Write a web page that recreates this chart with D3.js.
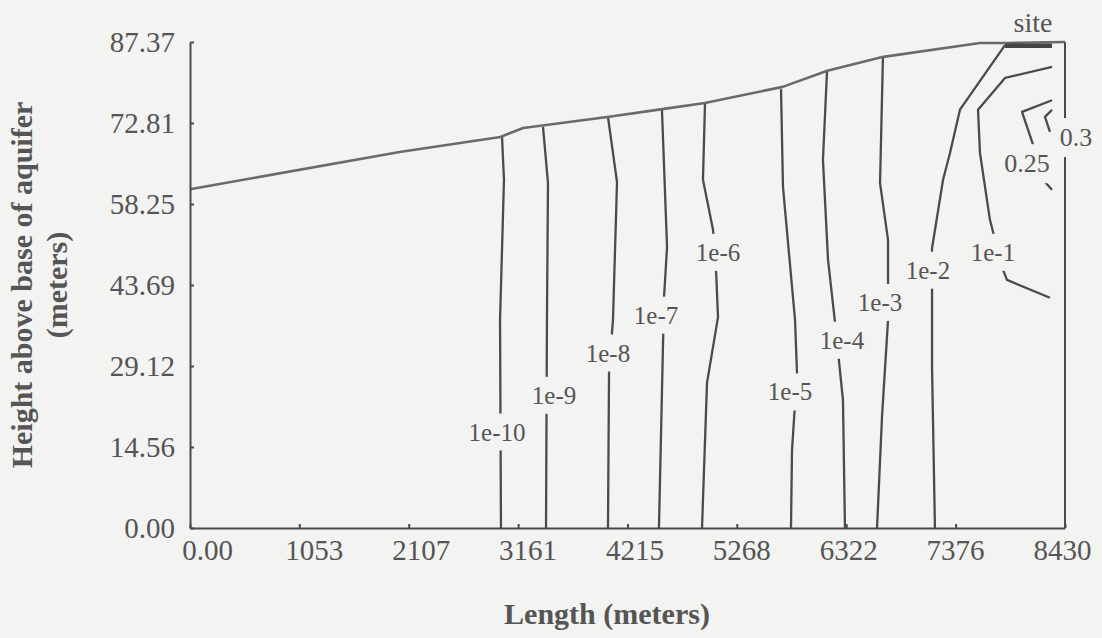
<!DOCTYPE html>
<html>
<head>
<meta charset="utf-8">
<script src="https://cdn.jsdelivr.net/npm/d3@7"></script>
<style>
  html, body { margin: 0; padding: 0; background: #f3f3f1; }
  svg { display: block; }
  text { font-family: "Liberation Serif", "Times New Roman", serif; fill: #555; }
</style>
</head>
<body>
<svg id="chart" width="1102" height="638"></svg>
<script>
// Axis ticks (meters)
const xTicks = [0, 1053, 2107, 3161, 4215, 5268, 6322, 7376, 8430];
const xTickLabels = ["0.00", "1053", "2107", "3161", "4215", "5268", "6322", "7376", "8430"];
const yTicks = [0, 14.56, 29.12, 43.69, 58.25, 72.81, 87.37];
const yTickLabels = ["0.00", "14.56", "29.12", "43.69", "58.25", "72.81", "87.37"];

// Ground surface profile: [length, height]
const surface = [[0, 60.9], [2020, 67.6], [2990, 70.3], [3210, 71.9], [4020, 73.9],
  [4550, 75.3], [4960, 76.4], [5710, 79.3], [6140, 82.2], [6680, 84.7],
  [7610, 87.2], [7870, 87.2], [8430, 87.37]];

// Site location along the surface
const siteExtent = [7852, 8305];
const siteHeight = 86.7;
const siteLabelAt = [8122, 87.37];

// Concentration contour levels, their traces and label anchors
const contourLevels = ["1e-10", "1e-9", "1e-8", "1e-7", "1e-6", "1e-5", "1e-4", "1e-3", "1e-2", "1e-1", "0.25", "0.3"];
const contourPaths = [
  [[3006, 70.3], [3025, 62.6], [2987, 37.4], [2996, 0]],
  [[3401, 72.1], [3449, 62.0], [3439, 37.4], [3430, 0]],
  [[4027, 73.9], [4114, 62.2], [4075, 37.4], [4037, 28.0], [4027, 0]],
  [[4547, 75.2], [4596, 50.5], [4567, 41.5], [4518, 0]],
  [[4962, 76.6], [4942, 62.6], [5039, 53.6], [5068, 46.4], [5087, 37.9], [4981, 26.1], [4933, 0]],
  [[5694, 78.9], [5713, 61.3], [5829, 37.4], [5848, 27.9], [5800, 14.0], [5790, 0]],
  [[6137, 82.0], [6098, 66.2], [6147, 48.2], [6214, 37.0], [6291, 23.0], [6310, 0]],
  [[6676, 84.7], [6648, 62.0], [6725, 51.8], [6725, 37.4], [6667, 20.0], [6619, 0]],
  [[7852, 86.8], [7418, 75.2], [7322, 67.4], [7255, 62.6], [7149, 50.3], [7149, 28.9], [7177, 0]],
  [[8305, 82.9], [7852, 80.9], [7592, 75.2], [7611, 67.4], [7707, 55.4], [7823, 46.9], [7871, 44.6], [8285, 41.4]],
  [[8305, 76.9], [8016, 74.8], [8122, 68.9], [8237, 62.2], [8305, 60.8]],
  [[8305, 75.2], [8237, 73.9], [8285, 71.2]]
];
const contourLabelAt = [
  [2958, 17.3], [3507, 23.9], [4027, 31.5], [4490, 38.3], [5087, 49.6], [5781, 24.5],
  [6281, 33.8], [6648, 40.6], [7110, 46.4], [7736, 49.6], [8064, 65.6], [8536, 70.3]
];

const lineColor = "#4b4b4b";
const svg = d3.select("#chart");

const x = d3.scaleLinear().domain([0, 8430]).range([190, 1065]);
const y = d3.scaleLinear().domain([0, 87.37]).range([528, 42]);
// tick labels sit on a slightly narrower run than the ticks themselves
const xLabelPos = d3.scaleLinear().domain([0, 8430]).range([207, 1062]);

const line = d3.line().x(d => x(d[0])).y(d => y(d[1]));

// Labels first, so their boxes can be cut out of the lines underneath
const labelLayer = svg.append("g").attr("class", "contour-labels");
const labels = labelLayer.selectAll("text")
  .data(contourLevels)
  .join("text")
  .attr("x", (d, i) => x(contourLabelAt[i][0]))
  .attr("y", (d, i) => y(contourLabelAt[i][1]))
  .attr("dy", "0.35em")
  .attr("text-anchor", "middle")
  .attr("font-size", (d) => (d === "0.3" || d === "0.25") ? 26 : 25)
  .text(d => d);

const defs = svg.append("defs");
const mask = defs.append("mask").attr("id", "label-gaps")
  .attr("maskUnits", "userSpaceOnUse")
  .attr("x", 0).attr("y", 0).attr("width", 1102).attr("height", 638);
mask.append("rect").attr("width", 1102).attr("height", 638).attr("fill", "white");
labels.each(function () {
  const b = this.getBBox();
  mask.append("rect")
    .attr("x", b.x - 4).attr("y", b.y - 5)
    .attr("width", b.width + 8).attr("height", b.height + 10)
    .attr("fill", "black");
});

const lines = svg.insert("g", ".contour-labels").attr("mask", "url(#label-gaps)");

// contour traces
lines.selectAll("path.contour")
  .data(contourPaths)
  .join("path")
  .attr("class", "contour")
  .attr("d", line)
  .attr("fill", "none")
  .attr("stroke", lineColor)
  .attr("stroke-width", 2.3)
  .attr("stroke-linejoin", "round");

// right-hand boundary of the domain
lines.append("path")
  .attr("d", line([[8430, 0], [8430, 87.37]]))
  .attr("fill", "none")
  .attr("stroke", lineColor)
  .attr("stroke-width", 2);

// ground surface
svg.insert("path", ".contour-labels")
  .attr("d", line(surface))
  .attr("fill", "none")
  .attr("stroke", "#6a6a6a")
  .attr("stroke-width", 2.6)
  .attr("stroke-linejoin", "round");

// site marker
svg.insert("path", ".contour-labels")
  .attr("d", line(siteExtent.map(v => [v, siteHeight])))
  .attr("stroke", "#444")
  .attr("stroke-width", 4.5);
svg.append("text")
  .attr("x", x(siteLabelAt[0]))
  .attr("y", y(siteLabelAt[1]) - 10)
  .attr("text-anchor", "middle")
  .attr("font-size", 28)
  .text("site");

// axes with inward ticks
const xAxis = svg.append("g")
  .attr("transform", `translate(0,${y(0)})`)
  .call(d3.axisBottom(x).tickValues(xTicks)
    .tickFormat((d, i) => xTickLabels[i])
    .tickSizeInner(-4).tickSizeOuter(0).tickPadding(11));
xAxis.selectAll("text")
  .attr("x", d => xLabelPos(d) - x(d))
  .attr("font-size", 29)
  .attr("font-family", "Liberation Serif, serif")
  .attr("fill", "#555");

const yAxis = svg.append("g")
  .attr("transform", `translate(${x(0)},0)`)
  .call(d3.axisLeft(y).tickValues(yTicks)
    .tickFormat((d, i) => yTickLabels[i])
    .tickSizeInner(-4).tickSizeOuter(0).tickPadding(15));
yAxis.selectAll("text")
  .attr("font-size", 29)
  .attr("font-family", "Liberation Serif, serif")
  .attr("fill", "#555");

[xAxis, yAxis].forEach(a => {
  a.select(".domain").attr("stroke", lineColor).attr("stroke-width", 2);
  a.selectAll(".tick line").attr("stroke", lineColor).attr("stroke-width", 2);
});

// axis titles
svg.append("text")
  .attr("x", 607).attr("y", 624)
  .attr("text-anchor", "middle")
  .attr("font-size", 30)
  .attr("font-weight", "bold")
  .text("Length (meters)");

const yTitle = svg.append("text")
  .attr("transform", "translate(32,285) rotate(-90)")
  .attr("text-anchor", "middle")
  .attr("font-size", 30)
  .attr("font-weight", "bold");
yTitle.append("tspan").attr("x", 0).attr("y", 0).text("Height above base of aquifer");
yTitle.append("tspan").attr("x", 0).attr("y", 35).text("(meters)");
</script>
</body>
</html>
